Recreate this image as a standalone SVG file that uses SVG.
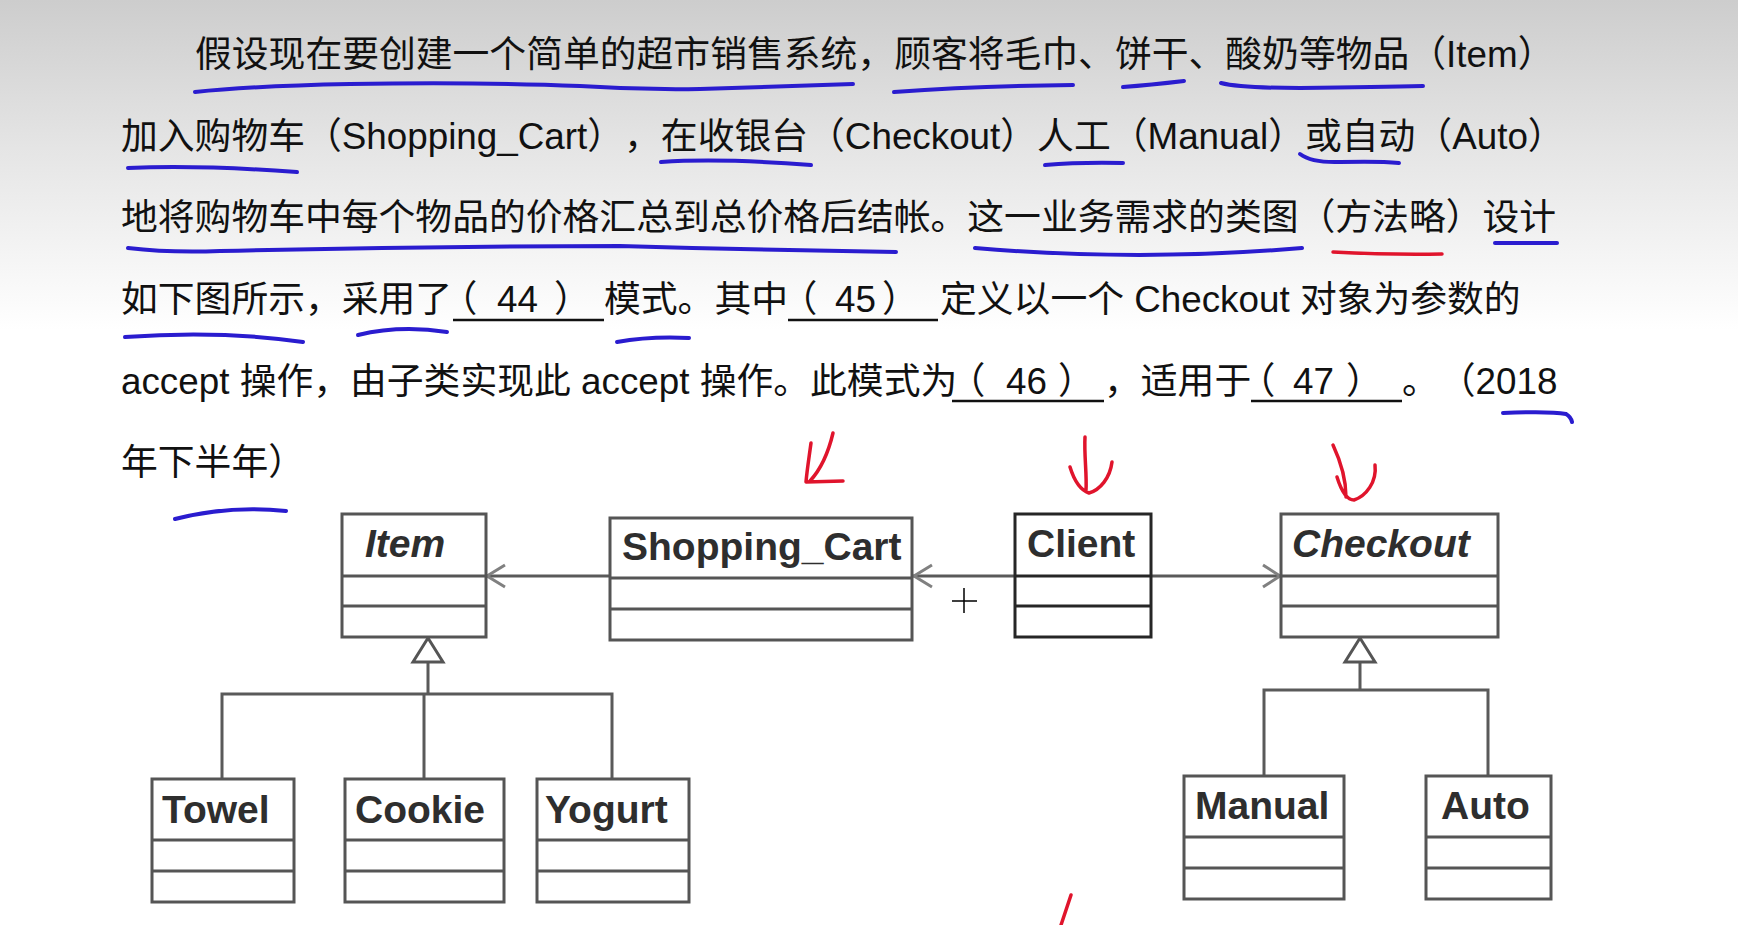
<svg xmlns="http://www.w3.org/2000/svg" width="1738" height="925" viewBox="0 0 1738 925">
<defs>
<linearGradient id="bg" x1="0" y1="0" x2="0" y2="330" gradientUnits="userSpaceOnUse">
<stop offset="0" stop-color="#cdcdcd"/>
<stop offset="0.45" stop-color="#e5e5e5"/>
<stop offset="1" stop-color="#ffffff"/>
</linearGradient>
<style>
.t{font-family:"Liberation Sans","Noto Sans CJK SC",sans-serif;font-size:36.8px;fill:#111;text-spacing-trim:space-all}
.h{font-feature-settings:"halt" 1}
.box{fill:#fff;stroke:#555;stroke-width:3}
.boxd{fill:#fff;stroke:#262626;stroke-width:3}
.div{stroke:#555;stroke-width:3}
.divd{stroke:#262626;stroke-width:3}
.lbl{font-family:"Liberation Sans",Arial,sans-serif;font-weight:bold;font-size:39px;fill:#2e2e2e}
.it{font-style:italic}
.conn{fill:none;stroke:#5a5a5a;stroke-width:3}
.head{fill:none;stroke:#808080;stroke-width:3}
.tri{fill:#fff;stroke:#555;stroke-width:3}
.blank{stroke:#111;stroke-width:2.5}
.blue{fill:none;stroke:#2a1ccf;stroke-width:4;stroke-linecap:round}
.red{fill:none;stroke:#e0142c;stroke-width:3.5;stroke-linecap:round;stroke-linejoin:round}
</style>
</defs>
<rect x="0" y="0" width="1738" height="925" fill="url(#bg)"/>

<g id="question-text">
<text class="t" x="195" y="67">假设现在要创建一个简单的超市销售系统，顾客将毛巾、饼干、酸奶等物品（Item）</text>
<text class="t" x="121" y="149">加入购物车（Shopping_Cart），在收银台（Checkout）人工（Manual）或自动（Auto）</text>
<text class="t" x="121" y="230">地将购物车中每个物品的价格汇总到总价格后结帐。这一业务需求的类图（方法略）设计</text>
<text class="t" y="312"><tspan x="121">如下图所示，采用了</tspan><tspan class="h" x="459">（</tspan><tspan x="497">44</tspan><tspan x="554">）</tspan><tspan x="604">模式。其中</tspan><tspan class="h" x="799">（</tspan><tspan x="835">45</tspan><tspan x="882">）</tspan><tspan x="940">定义以一个 Checkout 对象为参数的</tspan></text>
<text class="t" y="394"><tspan x="121">accept 操作，由子类实现此 accept 操作。此模式为</tspan><tspan class="h" x="967">（</tspan><tspan x="1006">46</tspan><tspan x="1058">）</tspan><tspan x="1104">，适用于</tspan><tspan class="h" x="1257">（</tspan><tspan x="1293">47</tspan><tspan x="1346">）</tspan><tspan x="1402">。（2018</tspan></text>
<text class="t" x="121" y="475">年下半年）</text>
<line class="blank" x1="453" y1="320" x2="604" y2="320"/>
<line class="blank" x1="788" y1="320" x2="938" y2="320"/>
<line class="blank" x1="952" y1="401" x2="1104" y2="401"/>
<line class="blank" x1="1251" y1="401" x2="1402" y2="401"/>
</g>

<g id="connectors">
<line class="conn" x1="609" y1="576" x2="486" y2="576"/>
<path class="head" d="M505 565 L487 576 L505 587"/>
<line class="conn" x1="1015" y1="576" x2="913" y2="576"/>
<path class="head" d="M932 565 L914 576 L932 587"/>
<line class="conn" x1="1151" y1="576" x2="1280" y2="576"/>
<path class="head" d="M1263 565 L1280 576 L1263 587"/>
<path class="conn" d="M428 662 V694 M222 779 V694 H612 V779 M424 694 V779"/>
<path class="tri" d="M428 638 L443 662 L413 662 Z"/>
<path class="conn" d="M1360 662 V690 M1264 776 V690 H1488 V776"/>
<path class="tri" d="M1360 638 L1375 662 L1345 662 Z"/>
</g>

<g id="node-item">
<rect class="box" x="342" y="514" width="144" height="123"/>
<line class="div" x1="342" y1="576" x2="486" y2="576"/>
<line class="div" x1="342" y1="606" x2="486" y2="606"/>
<text class="lbl it" x="365" y="557">Item</text>
</g>
<g id="node-shopping-cart">
<rect class="box" x="610" y="518" width="302" height="122"/>
<line class="div" x1="610" y1="578" x2="912" y2="578"/>
<line class="div" x1="610" y1="609" x2="912" y2="609"/>
<text class="lbl" x="622" y="560">Shopping_Cart</text>
</g>
<g id="node-client">
<rect class="boxd" x="1015" y="514" width="136" height="123"/>
<line class="divd" x1="1015" y1="576" x2="1151" y2="576"/>
<line class="divd" x1="1015" y1="606" x2="1151" y2="606"/>
<text class="lbl" x="1027" y="557">Client</text>
</g>
<g id="node-checkout">
<rect class="box" x="1281" y="514" width="217" height="123"/>
<line class="div" x1="1281" y1="576" x2="1498" y2="576"/>
<line class="div" x1="1281" y1="606" x2="1498" y2="606"/>
<text class="lbl it" x="1292" y="557">Checkout</text>
</g>
<g id="node-towel">
<rect class="box" x="152" y="779" width="142" height="123"/>
<line class="div" x1="152" y1="840" x2="294" y2="840"/>
<line class="div" x1="152" y1="871" x2="294" y2="871"/>
<text class="lbl" x="162" y="823">Towel</text>
</g>
<g id="node-cookie">
<rect class="box" x="345" y="779" width="159" height="123"/>
<line class="div" x1="345" y1="840" x2="504" y2="840"/>
<line class="div" x1="345" y1="871" x2="504" y2="871"/>
<text class="lbl" x="355" y="823">Cookie</text>
</g>
<g id="node-yogurt">
<rect class="box" x="537" y="779" width="152" height="123"/>
<line class="div" x1="537" y1="840" x2="689" y2="840"/>
<line class="div" x1="537" y1="871" x2="689" y2="871"/>
<text class="lbl" x="545" y="823">Yogurt</text>
</g>
<g id="node-manual">
<rect class="box" x="1184" y="776" width="160" height="123"/>
<line class="div" x1="1184" y1="837" x2="1344" y2="837"/>
<line class="div" x1="1184" y1="868" x2="1344" y2="868"/>
<text class="lbl" x="1195" y="819">Manual</text>
</g>
<g id="node-auto">
<rect class="box" x="1426" y="776" width="125" height="123"/>
<line class="div" x1="1426" y1="837" x2="1551" y2="837"/>
<line class="div" x1="1426" y1="868" x2="1551" y2="868"/>
<text class="lbl" x="1441" y="819">Auto</text>
</g>

<g id="annotations">
<path class="blue" d="M195 92 Q250 86 350 84 Q480 82 580 86 Q640 90 700 89 Q800 86 853 84"/>
<path class="blue" d="M894 92 Q980 86 1073 85"/>
<path class="blue" d="M1123 87 Q1150 85 1184 81"/>
<path class="blue" d="M1221 83 Q1240 88 1300 88 Q1380 87 1423 86"/>
<path class="blue" d="M128 168 Q200 165 297 172"/>
<path class="blue" d="M661 162 Q720 158 811 165"/>
<path class="blue" d="M1045 165 Q1080 162 1123 163"/>
<path class="blue" d="M1300 154 Q1312 163 1340 162 Q1380 161 1399 163"/>
<path class="blue" d="M128 248 Q170 253 220 251 Q420 246 620 246 Q760 250 896 252"/>
<path class="blue" d="M975 248 Q1140 262 1302 248"/>
<path class="red" d="M1333 252 Q1390 255 1442 254"/>
<path class="blue" d="M1495 243 L1557 243"/>
<path class="blue" d="M125 337 Q220 330 303 342"/>
<path class="blue" d="M358 335 Q400 325 447 332"/>
<path class="blue" d="M617 342 Q650 336 689 338"/>
<path class="blue" d="M1503 413 Q1550 411 1566 414 Q1571 417 1572 422"/>
<path class="blue" d="M175 519 Q230 505 286 511"/>
<path class="red" d="M833 433 C829 450 822 468 810 481 M811 443 C809 458 807 470 806 482 L843 481"/>
<path class="red" d="M1085 437 C1084 455 1087 475 1086 490 M1070 467 C1074 480 1080 490 1089 493 C1100 490 1110 478 1112 462"/>
<path class="red" d="M1333 445 C1340 460 1346 478 1346 497 M1337 477 C1341 490 1347 500 1354 500 C1366 496 1377 482 1375 465"/>
<path class="red" d="M1071 895 L1061 925"/>
<path d="M952 601 H977 M964 588 V613" stroke="#000" stroke-width="1.5" fill="none"/>
</g>
</svg>
